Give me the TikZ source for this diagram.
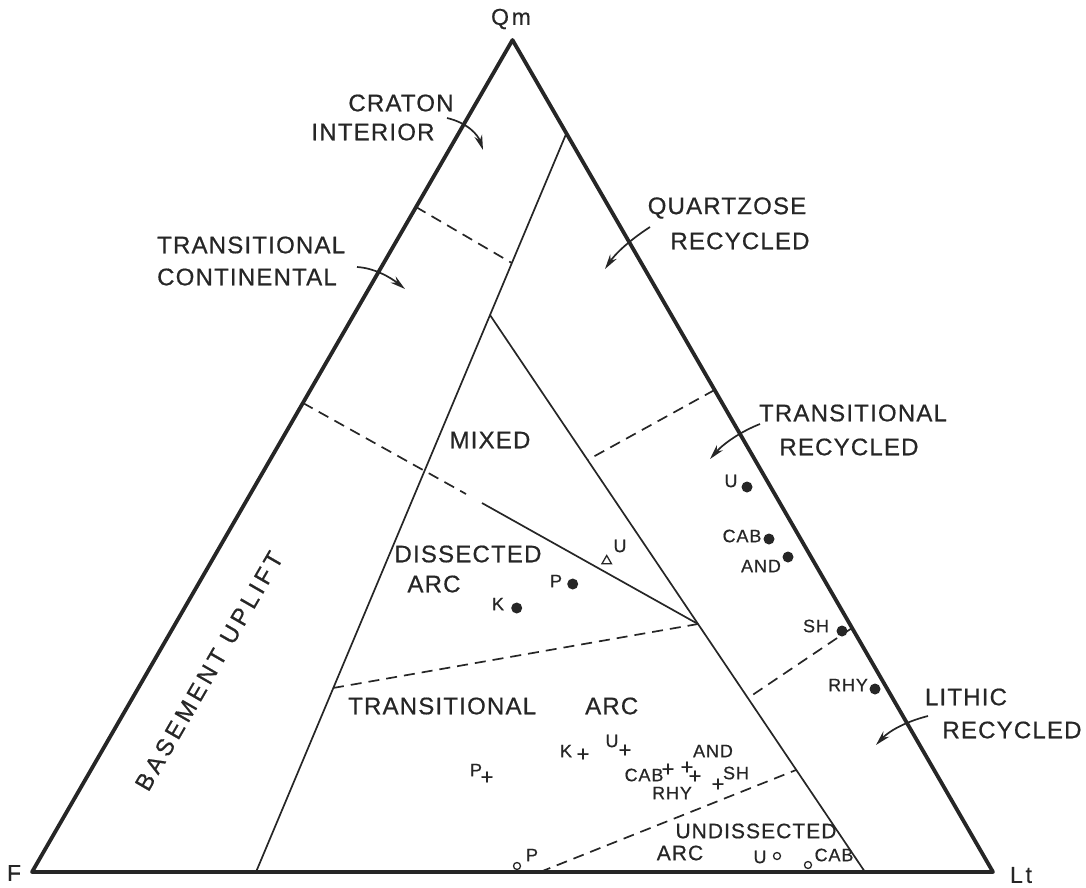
\documentclass[tikz,border=0pt]{standalone}
\usepackage{fontspec}
\usetikzlibrary{arrows.meta,shapes.geometric}
\newfontfamily\lettering[LetterSpace=5,FakeBold=0.6]{Liberation Sans}
\newfontfamily\wideletter[LetterSpace=16,FakeBold=0.6]{Liberation Sans}
\newfontfamily\vxletter[LetterSpace=12,FakeBold=0.6]{Liberation Sans}
\definecolor{ink}{HTML}{262626}
\newcommand{\biglab}{\lettering\fontsize{24}{26}\selectfont}
\newcommand{\midlab}{\lettering\fontsize{21}{23}\selectfont}
\newcommand{\smlab}{\lettering\fontsize{18}{20}\selectfont}
\newcommand{\vxlab}{\vxletter\fontsize{23}{25}\selectfont}
\newcommand{\widelab}{\wideletter\fontsize{24}{26}\selectfont}
\tikzset{
  frame/.style={draw=ink, line width=3.8pt, line join=round},
  bound/.style={draw=ink, line width=1.7pt},
  dashb/.style={draw=ink, line width=1.7pt, dash pattern=on 11pt off 7pt},
  lab/.style={font=\biglab, text=ink, inner sep=0pt, anchor=center},
  slab/.style={font=\smlab, text=ink, inner sep=0pt, anchor=center},
  vlab/.style={font=\vxlab, text=ink, inner sep=0pt, anchor=center},
  dot/.style={circle, fill=ink, inner sep=0pt, minimum size=11pt},
  ocirc/.style={circle, draw=ink, line width=1.3pt, inner sep=0pt, minimum size=7pt},
  tri/.style={regular polygon, regular polygon sides=3, draw=ink, line width=1.3pt, inner sep=0pt, minimum size=11pt},
  plusm/.style={font=\lettering\fontsize{22}{22}\selectfont, text=ink, inner sep=0pt},
  arr/.style={draw=ink, line width=1.7pt, -{Stealth[length=15pt,width=8pt]}}
}
\begin{document}
\begin{tikzpicture}[x=1pt,y=-1pt]
\path[use as bounding box] (0,0) rectangle (1086,887);
% vertices
\coordinate (Qm) at (512.5,40);
\coordinate (F) at (32,872);
\coordinate (Lt) at (993,872);
% boundary points
\coordinate (cTop) at (566.5,133);
\coordinate (cBot) at (256,872);
\coordinate (ciL) at (416,207);
\coordinate (ciR) at (511.8,263);
\coordinate (buL) at (303,403);
\coordinate (buE) at (466,494);
\coordinate (mxS) at (482,503);
\coordinate (mxR) at (698,624);
\coordinate (mxT) at (490,315);
\coordinate (aoB) at (865,872);
\coordinate (qrR) at (714.5,390);
\coordinate (qrL) at (587.5,460);
\coordinate (lrR) at (852,628);
\coordinate (lrL) at (748,698);
\coordinate (taL) at (333,688);
\coordinate (uaB) at (540,872);
\coordinate (uaR) at (796,770);

% inner boundaries
\draw[bound] (cTop) -- (cBot);
\draw[bound] (mxT) -- (aoB);
\draw[bound] (mxS) -- (mxR);
\draw[dashb] (ciL) -- (ciR);
\draw[dashb] (buL) -- (buE);
\draw[dashb] (qrR) -- (qrL);
\draw[dashb] (lrR) -- (lrL);
\draw[dashb] (taL) -- (mxR);
\draw[dashb] (uaB) -- (uaR);
% frame
\draw[frame] (Qm) -- (F) -- (Lt) -- cycle;

% vertex labels
\node[vlab] (lQm) at (511,19) {Qm};
\node[vlab] (lF) at (14,873) {F};
\node[vlab] (lLt) at (1021,875) {Lt};

% field labels
\node[lab] (ci1) at (401,103) {CRATON};
\node[lab] (ci2) at (373,132) {INTERIOR};
\node[lab, anchor=west] (tc1) at (157,245) {TRANSITIONAL};
\node[lab, anchor=west] (tc2) at (157,277) {CONTINENTAL};
\node[lab] (qr1) at (727,208) {QUARTZOSE};
\node[lab] (qr2) at (740,241) {RECYCLED};
\node[lab] (tr1) at (853,413) {TRANSITIONAL};
\node[lab] (tr2) at (849,447) {RECYCLED};
\node[lab] (mx) at (490,440) {MIXED};
\node[lab] (da1) at (468,554) {DISSECTED};
\node[lab] (da2) at (434,584) {ARC};
\node[lab, anchor=west] (ta1) at (348,706) {TRANSITIONAL};
\node[lab, anchor=west] (ta2) at (585,706) {ARC};
\node[lab] (lr1) at (966,697) {LITHIC};
\node[lab] (lr2) at (1012,730) {RECYCLED};
\node[font=\widelab, text=ink, inner sep=0pt, rotate=60] (bu) at (209,671) {BASEMENT UPLIFT};
\node[font=\midlab, text=ink, inner sep=0pt] (ua1) at (756,831) {UNDISSECTED};
\node[font=\midlab, text=ink, inner sep=0pt] (ua2) at (680,853) {ARC};

% arrows
\coordinate (a1s) at (447,118); \coordinate (a1e) at (483,150);
\draw[arr] (a1s) .. controls (468,123) and (478,135) .. (a1e);
\coordinate (a2s) at (357,267); \coordinate (a2e) at (405,289);
\draw[arr] (a2s) .. controls (374,268) and (390,277) .. (a2e);
\coordinate (a3s) at (650,227); \coordinate (a3e) at (605,269);
\draw[arr] (a3s) .. controls (636,236) and (618,250) .. (a3e);
\coordinate (a4s) at (760,424); \coordinate (a4e) at (710,459);
\draw[arr] (a4s) .. controls (742,431) and (724,443) .. (a4e);
\coordinate (a5s) at (928,716); \coordinate (a5e) at (876,745);
\draw[arr] (a5s) .. controls (908,721) and (890,730) .. (a5e);

% dissected arc points
\node[dot] (dK) at (516.7,608) {};
\node[slab] (dKl) at (498,604) {K};
\node[dot] (dP) at (572.7,584) {};
\node[slab] (dPl) at (556,581) {P};
\node[tri] (dU) at (606.7,561) {};
\node[slab] (dUl) at (620,546) {U};

% transitional arc points
\node[plusm] (tP) at (487,778) {+};
\node[slab] (tPl) at (476,770) {P};
\node[plusm] (tK) at (583,755) {+};
\node[slab] (tKl) at (566,751) {K};
\node[plusm] (tU) at (625,751) {+};
\node[slab] (tUl) at (612,741) {U};
\node[plusm] (tC) at (668,770) {+};
\node[slab] (tCl) at (644,775) {CAB};
\node[plusm] (tA) at (687,768) {+};
\node[slab] (tAl) at (713,751) {AND};
\node[plusm] (tR) at (695,777) {+};
\node[slab] (tRl) at (672,793) {RHY};
\node[plusm] (tS) at (718,785) {+};
\node[slab] (tSl) at (736,773) {SH};

% undissected arc points
\node[ocirc] (uP) at (517,866) {};
\node[slab] (uPl) at (532,855) {P};
\node[slab] (uUl) at (760,857) {U};
\node[ocirc] (uU) at (777,856) {};
\node[ocirc] (uC) at (808,865) {};
\node[slab] (uCl) at (834,855) {CAB};

% recycled orogen points
\node[dot] (rU) at (747,487) {};
\node[slab] (rUl) at (731,481) {U};
\node[dot] (rC) at (769,539) {};
\node[slab] (rCl) at (742,536) {CAB};
\node[dot] (rA) at (788,557) {};
\node[slab] (rAl) at (761,566) {AND};
\node[dot] (rS) at (842,631) {};
\node[slab] (rSl) at (816,626) {SH};
\node[dot] (rR) at (875,689) {};
\node[slab] (rRl) at (848,685) {RHY};
\end{tikzpicture}
\end{document}
